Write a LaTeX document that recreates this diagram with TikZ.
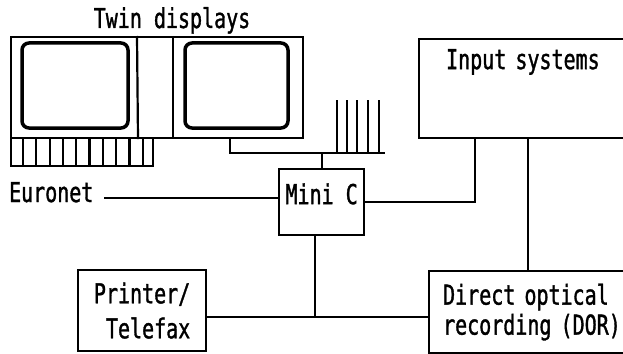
\documentclass[tikz,border=0pt]{standalone}
\usepackage{fontspec}
\usepackage{tikz}
\newfontfamily\plotfont[FakeStretch=0.73,FakeBold=1.2]{DejaVu Sans Mono}

\begin{document}
\begin{tikzpicture}[x=1pt,y=-1pt,line width=2.2pt,font=\plotfont\fontsize{27.4}{32}\selectfont]
\useasboundingbox (0,0) rectangle (623,353);
\node[anchor=base,inner sep=0pt](twin) at (172,28){Twin displays};
\node[draw,anchor=north west,minimum width=292pt,minimum height=101pt,inner sep=0pt](disp) at (10,36){};
\draw ([xshift=127pt]disp.north west) -- ([xshift=128pt]disp.south west);
\draw ([xshift=163pt]disp.north west) -- ([xshift=163pt]disp.south west);
\draw[line width=3.5pt,rounded corners=7pt] (22,43) rectangle (128,128);
\draw[line width=3.5pt,rounded corners=7pt] (185,43) rectangle (288,128);
\node[draw,anchor=north west,minimum width=142pt,minimum height=28pt,inner sep=0pt](kbd) at (10,137){};
\foreach \i in {0,...,9}
  \draw ([xshift={13+13.3*\i}]kbd.north west) -- ([xshift={13+13.3*\i}]kbd.south west);
\node[draw,anchor=north west,minimum width=85pt,text height=20pt,text depth=16pt,inner ysep=15pt](minic) at (278,168){Mini C};
\node[draw,anchor=north west,text width=170pt,inner xsep=27pt,text height=20pt,text depth=59pt,inner ysep=10pt,align=left](inp) at (418,38){Input systems};
\node[draw,anchor=north west,minimum width=128pt,minimum height=81pt,align=right](prn) at (77,269){Printer/\\[3pt]Telefax};
\node[draw,anchor=north west,minimum height=82pt,text width=190pt,inner xsep=14pt,align=left](dor) at (428,270){Direct optical\\[-2pt]recording (DOR)};
\node[anchor=base west,inner sep=0pt](euronet) at (8,202){Euronet};
\coordinate (hub) at ([yshift=15pt]minic.north);
\draw (minic.north) -- (hub);
\draw ([xshift=220pt]disp.south west) |- ([xshift=63pt]hub);
\foreach \x in {15,25,35,46,57}
  \draw ([xshift=\x pt]hub) -- ++(0,-53);
\coordinate (eu) at ([xshift=10pt,yshift=4pt]euronet.base east);
\draw (eu) -- (eu -| minic.west);
\draw (minic.east) -| ([xshift=57pt]inp.south west);
\draw ([xshift=110pt]inp.south west) -- ([xshift=100pt]dor.north west);
\coordinate (bus) at ([yshift=-6pt]prn.east);
\draw (bus) -- (bus -| dor.west);
\coordinate (mc) at ([xshift=-7pt]minic.south);
\draw (mc) -- (mc |- bus);
\end{tikzpicture}
\end{document}
